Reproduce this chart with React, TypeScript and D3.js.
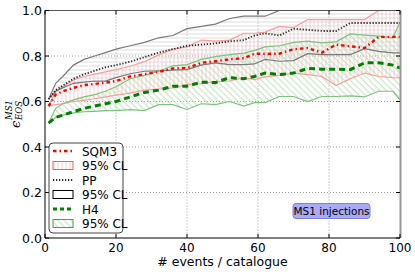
import React from 'react';
import * as d3 from 'd3';

const events = [1, 3, 5, 8, 11, 14, 17, 20, 24, 28, 32, 36, 40, 44, 48, 52, 56, 59, 62, 66, 70, 74, 78, 82, 86, 90, 94, 98, 100];

const sqm3 = [0.58, 0.63, 0.645, 0.66, 0.672, 0.677, 0.683, 0.69, 0.71, 0.72, 0.73, 0.745, 0.747, 0.77, 0.777, 0.785, 0.79, 0.81, 0.81, 0.81, 0.83, 0.835, 0.815, 0.85, 0.843, 0.835, 0.884, 0.884, 0.884];
const sqm3Hi = [0.58, 0.645, 0.665, 0.695, 0.71, 0.72, 0.73, 0.74, 0.755, 0.775, 0.805, 0.83, 0.84, 0.87, 0.865, 0.87, 0.9, 0.9, 0.905, 0.93, 0.925, 0.96, 0.96, 0.96, 0.96, 0.96, 1, 1, 1];
const sqm3Lo = [0.58, 0.586, 0.59, 0.6, 0.605, 0.612, 0.62, 0.628, 0.637, 0.65, 0.655, 0.66, 0.674, 0.678, 0.687, 0.69, 0.705, 0.696, 0.708, 0.715, 0.725, 0.718, 0.71, 0.67, 0.7, 0.725, 0.71, 0.705, 0.704];

const pp = [0.61, 0.65, 0.67, 0.7, 0.72, 0.735, 0.75, 0.76, 0.775, 0.795, 0.815, 0.83, 0.845, 0.85, 0.855, 0.865, 0.87, 0.89, 0.9, 0.89, 0.92, 0.915, 0.91, 0.91, 0.945, 0.945, 0.945, 0.945, 0.945];
const ppHi = [0.61, 0.68, 0.71, 0.76, 0.785, 0.8, 0.815, 0.83, 0.845, 0.86, 0.88, 0.89, 0.92, 0.93, 0.94, 0.965, 0.975, 0.975, 0.975, 1, 1, 1, 1, 1, 1, 1, 1, 1, 1];
const ppLo = [0.61, 0.645, 0.66, 0.68, 0.685, 0.69, 0.69, 0.705, 0.722, 0.733, 0.735, 0.738, 0.74, 0.76, 0.77, 0.762, 0.762, 0.765, 0.785, 0.777, 0.78, 0.81, 0.806, 0.806, 0.806, 0.832, 0.82, 0.814, 0.814];

const h4 = [0.505, 0.53, 0.54, 0.555, 0.57, 0.58, 0.59, 0.6, 0.62, 0.64, 0.65, 0.667, 0.667, 0.685, 0.683, 0.705, 0.7, 0.71, 0.725, 0.718, 0.725, 0.745, 0.742, 0.742, 0.74, 0.77, 0.77, 0.76, 0.747];
const h4Hi = [0.505, 0.57, 0.59, 0.607, 0.62, 0.63, 0.645, 0.665, 0.7, 0.715, 0.733, 0.757, 0.762, 0.785, 0.797, 0.806, 0.813, 0.825, 0.84, 0.845, 0.86, 0.865, 0.858, 0.862, 0.897, 0.892, 0.887, 0.88, 0.95];
const h4Lo = [0.505, 0.53, 0.54, 0.55, 0.555, 0.557, 0.56, 0.56, 0.564, 0.56, 0.586, 0.586, 0.565, 0.59, 0.586, 0.6, 0.58, 0.595, 0.595, 0.622, 0.622, 0.6, 0.622, 0.622, 0.625, 0.62, 0.645, 0.645, 0.608];

const xTicks = [0, 20, 40, 60, 80, 100];
const yTicks = [0, 0.2, 0.4, 0.6, 0.8, 1.0];
const legendLabels = ['SQM3', '95% CL', 'PP', '95% CL', 'H4', '95% CL'];

const W = 415, H = 274;
const L = 45, R = 400, T = 10.5, B = 238;
const font = 'DejaVu Sans, sans-serif';

const App = () => {
  const x = d3.scaleLinear().domain([0, 100]).range([L, R]);
  const y = d3.scaleLinear().domain([0, 1]).range([B, T]);

  const line = (vals: number[]) =>
    d3.line<number>().x((_, i) => x(events[i])).y(d => y(d))(vals) || '';
  const band = (lo: number[], hi: number[]) =>
    d3.area<number>().x((_, i) => x(events[i])).y0((_, i) => y(lo[i])).y1(d => y(d))(hi) || '';

  const bands = [
    { lo: sqm3Lo, hi: sqm3Hi, fill: 'url(#hv)', stroke: '#f7a0a0', w: 1.2 },
    { lo: ppLo, hi: ppHi, fill: 'url(#hh)', stroke: '#7a7a7a', w: 1.2 },
    { lo: h4Lo, hi: h4Hi, fill: 'url(#hd)', stroke: '#7cc47c', w: 1.2 },
  ];

  const legY = (i: number) => 151 + i * 14.5;

  return (
    <svg width={W} height={H} style={{ position: 'fixed', left: 0, top: 0, background: '#fff' }}>
      <defs>
        <clipPath id="plot">
          <rect x={L} y={T} width={R - L} height={B - T} />
        </clipPath>
        <pattern id="hh" width="4" height="4" patternUnits="userSpaceOnUse">
          <line x1="0" y1="2" x2="4" y2="2" stroke="#d4d4d4" strokeWidth="0.8" />
        </pattern>
        <pattern id="hv" width="4" height="4" patternUnits="userSpaceOnUse">
          <line x1="2" y1="0" x2="2" y2="4" stroke="#f9c0c0" strokeWidth="0.8" />
        </pattern>
        <pattern id="hd" width="4.5" height="4.5" patternUnits="userSpaceOnUse" patternTransform="rotate(-45)">
          <line x1="2" y1="0" x2="2" y2="4.5" stroke="#b5dfb5" strokeWidth="0.9" />
        </pattern>
      </defs>

      {/* grid */}
      {xTicks.slice(1, -1).map(t => (
        <line key={'gx' + t} x1={x(t)} x2={x(t)} y1={T} y2={B} stroke="#888" strokeWidth={0.8} strokeDasharray="1,2" />
      ))}
      {yTicks.slice(1, -1).map(t => (
        <line key={'gy' + t} x1={L} x2={R} y1={y(t)} y2={y(t)} stroke="#888" strokeWidth={0.8} strokeDasharray="1,2" />
      ))}

      <g clipPath="url(#plot)">
        {bands.map((b, i) => (
          <path key={'b' + i} d={band(b.lo, b.hi)} fill={b.fill} stroke="none" />
        ))}
        {bands.map((b, i) => (
          <g key={'e' + i} fill="none" stroke={b.stroke} strokeWidth={b.w}>
            <path d={line(b.hi)} />
            <path d={line(b.lo)} />
          </g>
        ))}
        <path d={line(sqm3)} fill="none" stroke="#ff0000" strokeWidth={2.4} strokeDasharray="3.5,3,1.5,3" />
        <path d={line(pp)} fill="none" stroke="#222" strokeWidth={1.8} strokeDasharray="1.2,1.8" />
        <path d={line(h4)} fill="none" stroke="#007f00" strokeWidth={3} strokeDasharray="6,4" />
      </g>

      {/* frame */}
      <line x1={L} x2={R} y1={T} y2={T} stroke="#555" strokeWidth={1.2} />
      <line x1={R + 0.5} x2={R + 0.5} y1={T} y2={B} stroke="#999" strokeWidth={2} />
      <line x1={L} x2={L} y1={T} y2={B} stroke="#000" strokeWidth={1} />
      <line x1={L} x2={R} y1={B} y2={B} stroke="#000" strokeWidth={1} />

      {/* ticks */}
      {xTicks.map(t => (
        <g key={'tx' + t}>
          <line x1={x(t)} x2={x(t)} y1={B} y2={B - 4} stroke="#000" />
          <line x1={x(t)} x2={x(t)} y1={T} y2={T + 4} stroke="#000" />
          <text x={x(t)} y={251.5} textAnchor="middle" fontSize={12} fontFamily={font}>{t}</text>
        </g>
      ))}
      {yTicks.map(t => (
        <g key={'ty' + t}>
          <line x1={L} x2={L + 4} y1={y(t)} y2={y(t)} stroke="#000" />
          <line x1={R} x2={R - 4} y1={y(t)} y2={y(t)} stroke="#000" />
          <text x={42} y={y(t) + 4.5} textAnchor="end" fontSize={12.5} fontFamily={font}>{t.toFixed(1)}</text>
        </g>
      ))}

      <text x={(L + R) / 2} y={266} textAnchor="middle" fontSize={12.5} fontFamily={font}># events / catalogue</text>

      <g transform="translate(20,128) rotate(-90)" fontFamily="DejaVu Serif, serif" fontStyle="italic">
        <text x={0} y={0} fontSize={13}>ϵ</text>
        <text x={8} y={-8.5} fontSize={8.5}>MS1</text>
        <text x={8} y={1.5} fontSize={8.5}>EOS</text>
      </g>

      {/* legend */}
      <rect x={49} y={143} width={74} height={90} rx={4} fill="#fff" stroke="#444" strokeWidth={1} />
      <line x1={53} x2={73} y1={legY(0)} y2={legY(0)} stroke="#ff0000" strokeWidth={2.4} strokeDasharray="3.5,3,1.5,3" />
      <rect x={53} y={legY(1) - 4} width={20} height={8} fill="url(#hv)" stroke="#f06060" strokeWidth={1} />
      <line x1={53} x2={73} y1={legY(2)} y2={legY(2)} stroke="#222" strokeWidth={1.8} strokeDasharray="1.2,1.8" />
      <rect x={53} y={legY(3) - 4} width={20} height={8} fill="#fff" stroke="#000" strokeWidth={1} />
      <line x1={53} x2={73} y1={legY(4)} y2={legY(4)} stroke="#007f00" strokeWidth={3} strokeDasharray="4,3" />
      <rect x={53} y={legY(5) - 4} width={20} height={8} fill="url(#hd)" stroke="#4aa04a" strokeWidth={1} />
      {legendLabels.map((s, i) => (
        <text key={'l' + i} x={82} y={legY(i) + 4.5} fontSize={12} fontFamily={font}>{s}</text>
      ))}

      {/* annotation */}
      <rect x={293} y={203.5} width={77} height={15} rx={3} fill="#aaaaf6" stroke="#8080e0" strokeWidth={1} />
      <text x={331.5} y={215} textAnchor="middle" fontSize={10.5} fontFamily={font}>MS1 injections</text>
    </svg>
  );
};

export default App;
